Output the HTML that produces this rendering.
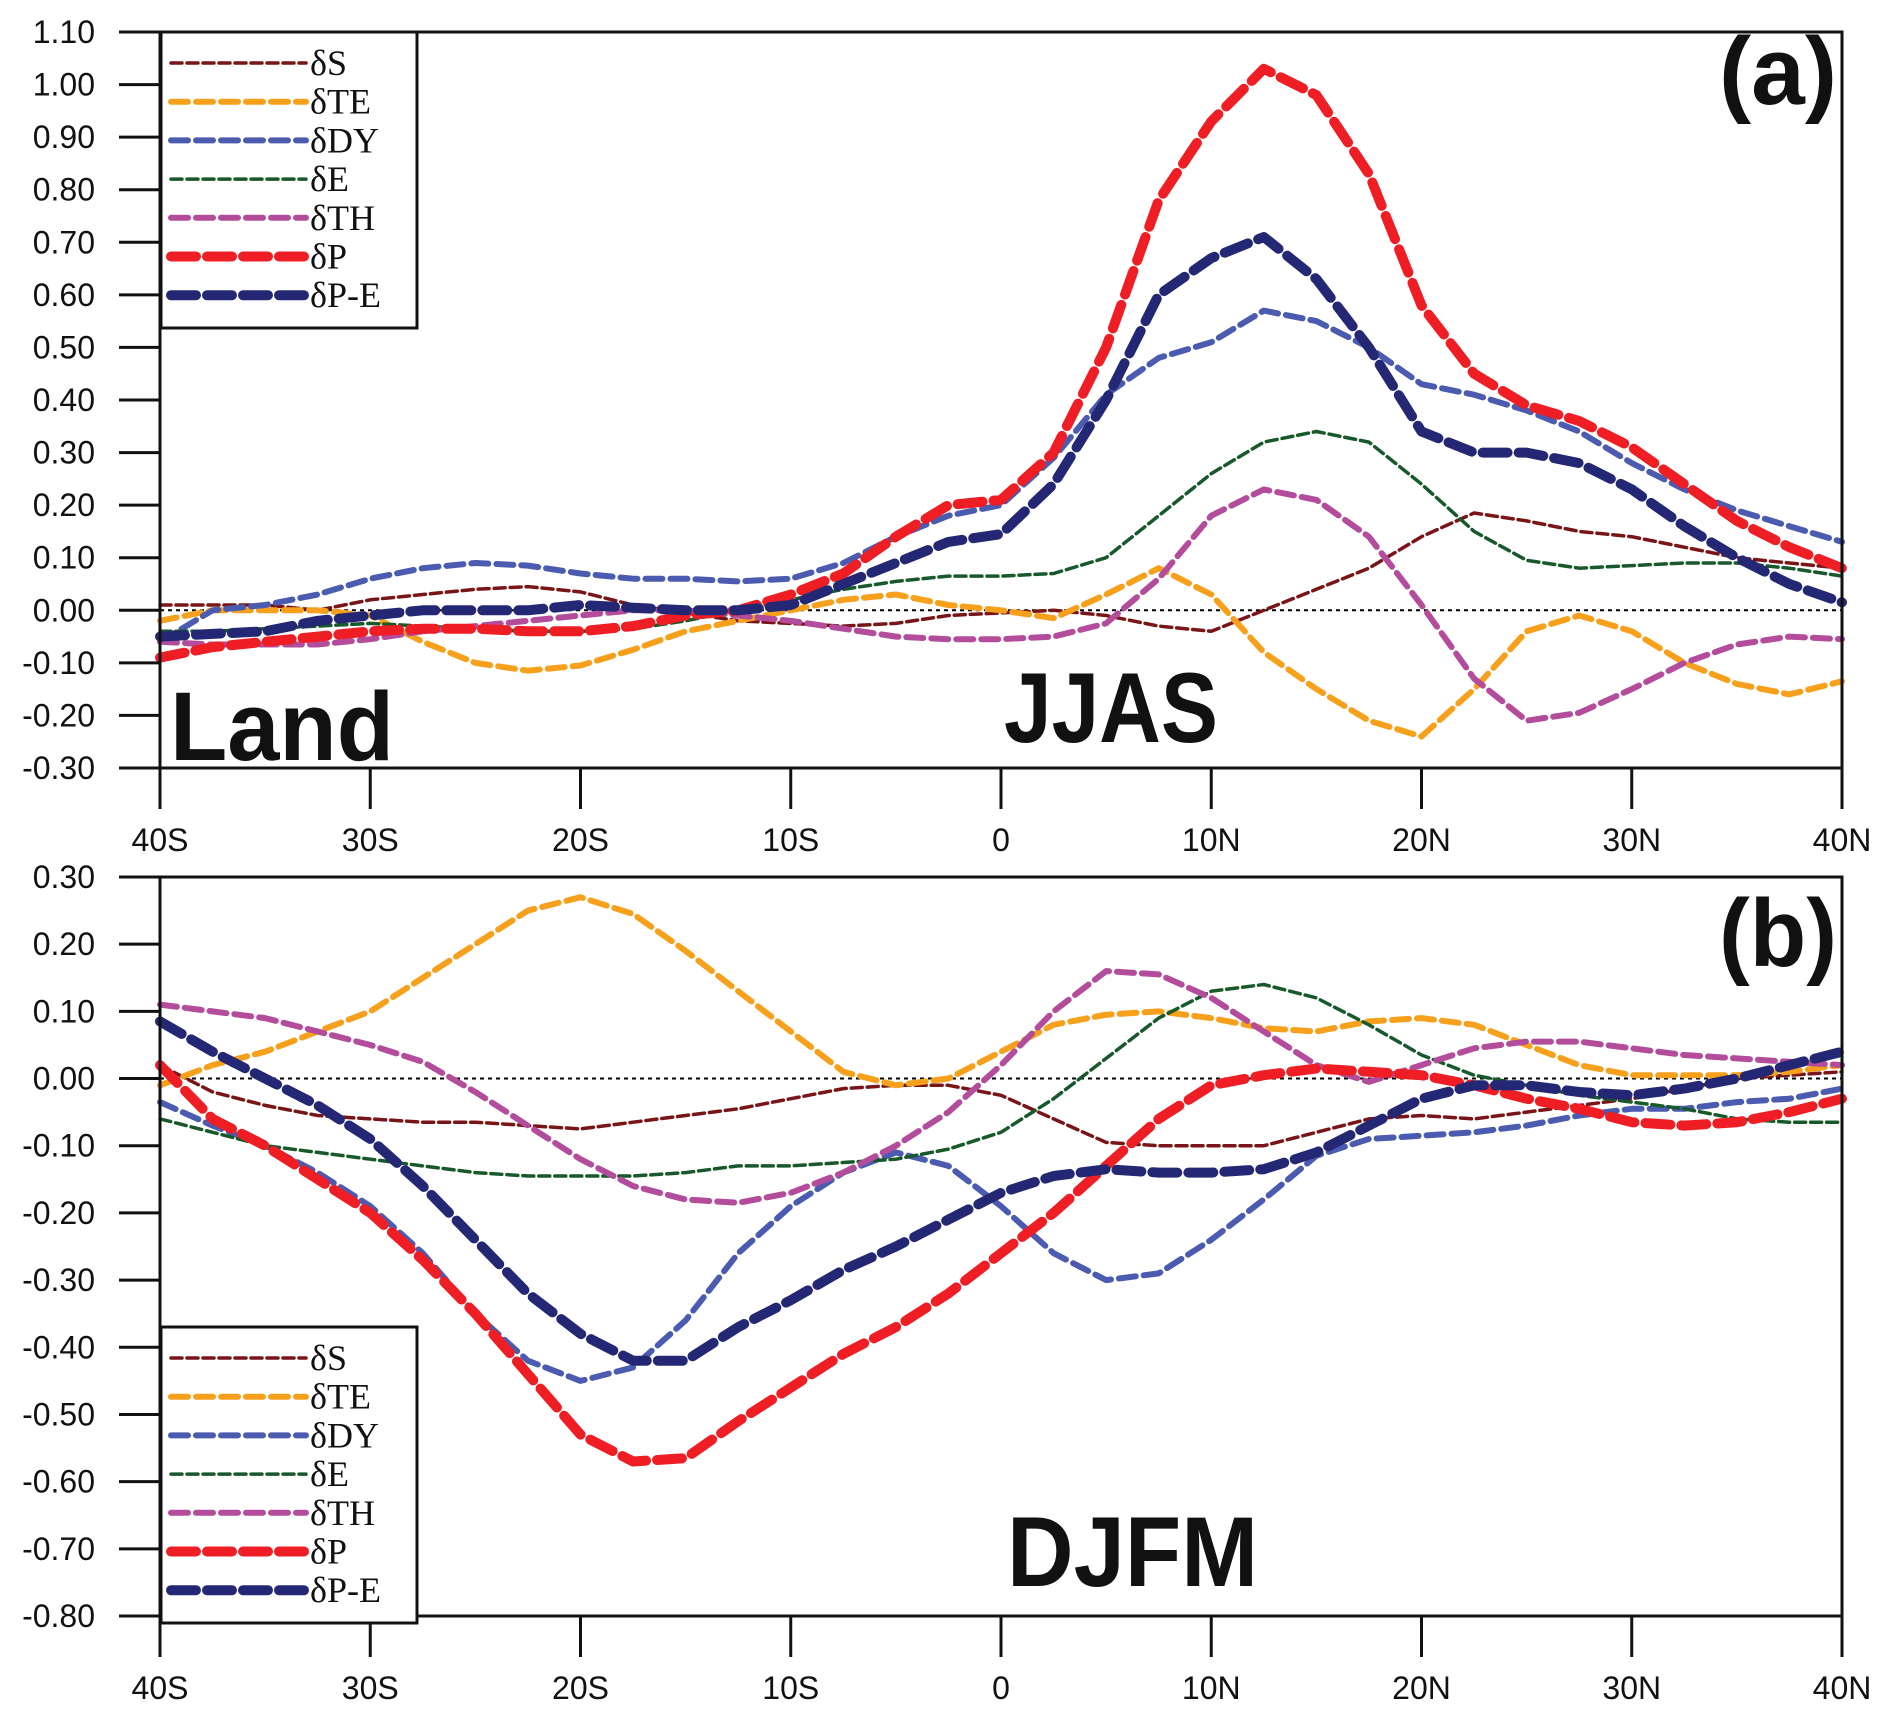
<!DOCTYPE html>
<html><head><meta charset="utf-8"><style>html,body{margin:0;padding:0;background:#fff}svg{display:block}</style></head>
<body>
<svg id="chart" xmlns="http://www.w3.org/2000/svg" width="1892" height="1720" viewBox="0 0 1892 1720"></svg>
<script>
const lats = [-40,-37.5,-35,-32.5,-30,-27.5,-25,-22.5,-20,-17.5,-15,-12.5,-10,-7.5,-5,-2.5,0,2.5,5,7.5,10,12.5,15,17.5,20,22.5,25,27.5,30,32.5,35,37.5,40];
const xTickVals = [-40,-30,-20,-10,0,10,20,30,40];
const xTickLabels = ["40S","30S","20S","10S","0","10N","20N","30N","40N"];
const seriesNames = ["δS","δTE","δDY","δE","δTH","δP","δP-E"];
// Panel (a) JJAS
const aS  = [0.01,0.01,0.01,0.0,0.02,0.03,0.04,0.045,0.035,0.01,-0.005,-0.02,-0.025,-0.03,-0.025,-0.01,-0.005,0.0,-0.01,-0.03,-0.04,0.0,0.04,0.08,0.14,0.185,0.17,0.15,0.14,0.12,0.10,0.09,0.08];
const aTE = [-0.02,0.0,0.0,0.0,-0.01,-0.06,-0.10,-0.115,-0.105,-0.075,-0.04,-0.02,0.0,0.02,0.03,0.01,0.0,-0.015,0.03,0.08,0.03,-0.08,-0.15,-0.21,-0.24,-0.15,-0.04,-0.01,-0.04,-0.10,-0.14,-0.16,-0.135];
const aDY = [-0.06,0.0,0.01,0.03,0.06,0.08,0.09,0.085,0.07,0.06,0.06,0.055,0.06,0.09,0.14,0.18,0.20,0.29,0.41,0.48,0.51,0.57,0.55,0.50,0.43,0.41,0.38,0.34,0.28,0.23,0.19,0.16,0.13];
const aE  = [-0.04,-0.04,-0.035,-0.03,-0.025,-0.03,-0.035,-0.04,-0.04,-0.035,-0.02,0.0,0.02,0.04,0.055,0.065,0.065,0.07,0.10,0.18,0.26,0.32,0.34,0.32,0.24,0.15,0.095,0.08,0.085,0.09,0.09,0.08,0.065];
const aTH = [-0.06,-0.065,-0.065,-0.065,-0.055,-0.04,-0.03,-0.02,-0.01,0.0,0.0,-0.01,-0.02,-0.035,-0.05,-0.055,-0.055,-0.05,-0.025,0.06,0.18,0.23,0.21,0.14,0.01,-0.13,-0.21,-0.195,-0.15,-0.10,-0.065,-0.05,-0.055];
const aP  = [-0.09,-0.07,-0.06,-0.05,-0.04,-0.035,-0.035,-0.04,-0.04,-0.03,-0.01,0.0,0.03,0.07,0.14,0.20,0.21,0.30,0.50,0.78,0.93,1.03,0.98,0.83,0.58,0.45,0.39,0.36,0.31,0.24,0.17,0.12,0.08];
const aPE = [-0.05,-0.045,-0.04,-0.02,-0.01,0.0,0.0,0.0,0.01,0.005,0.0,0.0,0.01,0.05,0.09,0.13,0.145,0.24,0.40,0.60,0.67,0.71,0.63,0.50,0.34,0.30,0.30,0.28,0.23,0.16,0.10,0.05,0.015];
// Panel (b) DJFM
const bS  = [0.02,-0.02,-0.04,-0.055,-0.06,-0.065,-0.065,-0.07,-0.075,-0.065,-0.055,-0.045,-0.03,-0.015,-0.01,-0.01,-0.025,-0.06,-0.095,-0.10,-0.10,-0.10,-0.08,-0.06,-0.055,-0.06,-0.05,-0.04,-0.03,-0.015,0.0,0.005,0.01];
const bTE = [-0.01,0.02,0.04,0.07,0.10,0.15,0.20,0.25,0.27,0.245,0.19,0.13,0.07,0.01,-0.01,0.0,0.04,0.08,0.095,0.10,0.09,0.075,0.07,0.085,0.09,0.08,0.05,0.02,0.005,0.005,0.005,0.01,0.02];
const bDY = [-0.035,-0.07,-0.10,-0.14,-0.19,-0.26,-0.35,-0.42,-0.45,-0.43,-0.36,-0.26,-0.19,-0.14,-0.11,-0.13,-0.19,-0.26,-0.30,-0.29,-0.24,-0.18,-0.115,-0.09,-0.085,-0.08,-0.07,-0.055,-0.045,-0.045,-0.035,-0.03,-0.015];
const bE  = [-0.06,-0.08,-0.10,-0.11,-0.12,-0.13,-0.14,-0.145,-0.145,-0.145,-0.14,-0.13,-0.13,-0.125,-0.12,-0.105,-0.08,-0.03,0.03,0.09,0.13,0.14,0.12,0.08,0.035,0.005,-0.01,-0.025,-0.035,-0.045,-0.06,-0.065,-0.065];
const bTH = [0.11,0.10,0.09,0.07,0.05,0.025,-0.02,-0.07,-0.12,-0.16,-0.18,-0.185,-0.17,-0.14,-0.10,-0.05,0.02,0.10,0.16,0.155,0.12,0.07,0.02,-0.005,0.02,0.045,0.055,0.055,0.045,0.035,0.03,0.025,0.02];
const bP  = [0.02,-0.06,-0.10,-0.15,-0.20,-0.27,-0.35,-0.44,-0.53,-0.57,-0.565,-0.51,-0.46,-0.41,-0.37,-0.32,-0.26,-0.20,-0.13,-0.06,-0.01,0.005,0.015,0.01,0.005,-0.01,-0.03,-0.045,-0.065,-0.07,-0.065,-0.05,-0.03];
const bPE = [0.085,0.04,0.0,-0.04,-0.09,-0.16,-0.24,-0.32,-0.38,-0.42,-0.42,-0.37,-0.33,-0.285,-0.25,-0.21,-0.17,-0.145,-0.135,-0.14,-0.14,-0.135,-0.11,-0.07,-0.03,-0.01,-0.01,-0.02,-0.025,-0.015,0.0,0.02,0.04];
const aTicks = [1.10,1.00,0.90,0.80,0.70,0.60,0.50,0.40,0.30,0.20,0.10,0.00,-0.10,-0.20,-0.30];
const bTicks = [0.30,0.20,0.10,0.00,-0.10,-0.20,-0.30,-0.40,-0.50,-0.60,-0.70,-0.80];

const styles = [
 {c:"#7a1517",w:3.5,d:"11 5"},
 {c:"#f7a01c",w:6,d:"17 8"},
 {c:"#4a5bb0",w:6,d:"17 8"},
 {c:"#17592a",w:3.5,d:"11 5"},
 {c:"#b44c9c",w:6,d:"17 8"},
 {c:"#ee1e24",w:10,d:"25 11"},
 {c:"#242874",w:10,d:"25 11"}
];
const NS="http://www.w3.org/2000/svg";
const svg=document.getElementById('chart');
function el(tag,attrs,parent){const e=document.createElementNS(NS,tag);for(const k in attrs)e.setAttribute(k,attrs[k]);(parent||svg).appendChild(e);return e;}
const X0=160,X1=1842;
function xs(v){return X0+(v+40)/80*(X1-X0);}

function panel(id,top,bottom,ymax,ymin,ticks,series,legTop,label,season,seasonX,seasonY,seasonLen,labelY){
  const g=el('g',{});
  
  
  const ys=v=>top+(ymax-v)/(ymax-ymin)*(bottom-top);
  const z=el('line',{x1:X0,x2:X1,y1:ys(0),y2:ys(0),stroke:'#000','stroke-width':2,'stroke-dasharray':'4 4'},g);
  
  
  series.forEach((vals,i)=>{
    const s=styles[i];
    const p=el('polyline',{points:vals.map((v,j)=>xs(lats[j]).toFixed(1)+','+ys(v).toFixed(1)).join(' '),fill:'none',stroke:s.c,'stroke-width':s.w,'stroke-dasharray':s.d,'stroke-linecap':'round','stroke-linejoin':'round'},g);
    
    
  });
  const f=el('rect',{x:X0,y:top,width:X1-X0,height:bottom-top,fill:'none',stroke:'#111','stroke-width':3},g);
  
  
  ticks.forEach(t=>{
    const y=ys(t);
    el('line',{x1:119,x2:X0,y1:y,y2:y,stroke:'#111','stroke-width':3},g);
    const tx=el('text',{x:95,y:y+11,'text-anchor':'end','font-family':'Liberation Sans, sans-serif','font-size':32,fill:'#111'},g);
    tx.textContent=t.toFixed(2);
    
    
  });
  xTickVals.forEach((v,i)=>{
    const x=xs(v);
    el('line',{x1:x,x2:x,y1:bottom,y2:bottom+41,stroke:'#111','stroke-width':3},g);
    const tx=el('text',{x:x,y:bottom+83,'text-anchor':'middle','font-family':'Liberation Sans, sans-serif','font-size':32,fill:'#111'},g);
    tx.textContent=xTickLabels[i];
    
    
  });
  const lg=el('g',{},g);
  
  
  el('rect',{x:161,y:legTop,width:256,height:296,fill:'#fff',stroke:'#111','stroke-width':3},lg);
  seriesNames.forEach((n,i)=>{
    const s=styles[i];const y=legTop+31+i*38.7;
    const e=el('g',{},lg);
    
    
    el('line',{x1:171,x2:306,y1:y,y2:y,stroke:s.c,'stroke-width':s.w,'stroke-dasharray':s.d,'stroke-linecap':'round'},e);
    const t=el('text',{x:310,y:y+12,'font-family':'Liberation Serif, serif','font-size':36,fill:'#111'},e);
    t.textContent=n;
  });
  const st=el('text',{x:seasonX,y:seasonY,'font-family':'Liberation Sans, sans-serif','font-weight':'bold','font-size':99,fill:'#111',textLength:seasonLen,lengthAdjust:'spacingAndGlyphs'},g);
  st.textContent=season;
  
  
  const pl=el('text',{x:1719,y:labelY,'font-family':'Liberation Sans, sans-serif','font-weight':'bold','font-size':96,fill:'#111',textLength:118,lengthAdjust:'spacingAndGlyphs'},g);
  pl.textContent=label;
  
  
}
panel('panel-a-jjas',32,768,1.10,-0.30,aTicks,[aS,aTE,aDY,aE,aTH,aP,aPE],32,'(a)','JJAS',1004,742,214,104);
panel('panel-b-djfm',877,1616,0.30,-0.80,bTicks,[bS,bTE,bDY,bE,bTH,bP,bPE],1327,'(b)','DJFM',1007,1586,251,966);
const land=el('text',{x:170,y:760,'font-family':'Liberation Sans, sans-serif','font-weight':'bold','font-size':97,fill:'#111',textLength:224,lengthAdjust:'spacingAndGlyphs'});
land.textContent='Land';


</script>
</body></html>
